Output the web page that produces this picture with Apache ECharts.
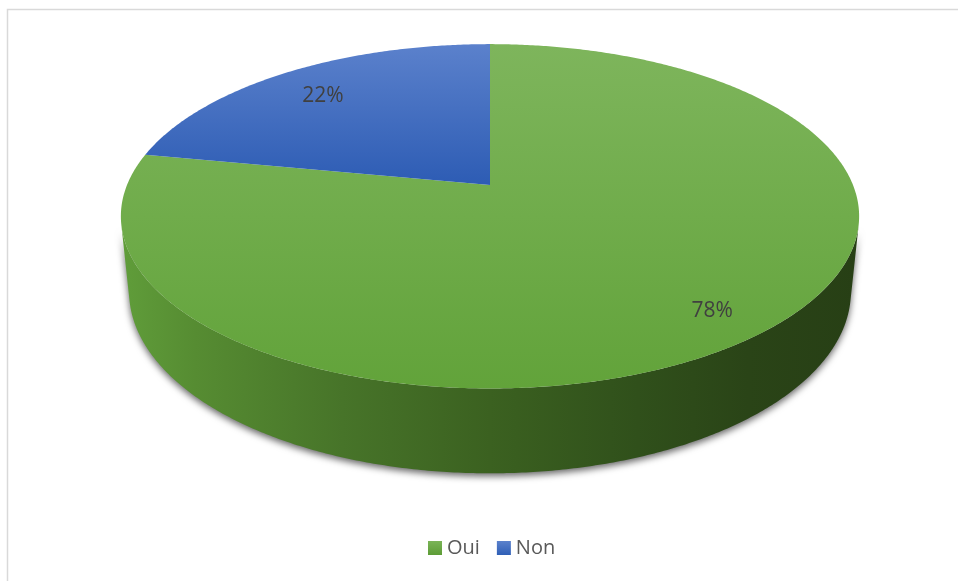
<!DOCTYPE html>
<html>
<head>
<meta charset="utf-8">
<script src="https://cdn.jsdelivr.net/npm/echarts@6/dist/echarts.min.js"></script>
<style>
  html, body { margin: 0; padding: 0; background: #ffffff; }
  #chart { width: 958px; height: 581px; }
</style>
</head>
<body>
<div id="chart"></div>
<script>
// Survey answers (percent of respondents)
const categories = ['Oui', 'Non'];
const shares = [78, 22];

// Top-face gradient (light -> base) for each slice
const topColors = [
  ['#7eb55c', '#62a33a'],
  ['#5b81cc', '#2d5cb4']
];
// Legend swatches
const legendColors = [
  ['#7ab457', '#5d9c36'],
  ['#5b81cc', '#2f5fb6']
];

const total = shares.reduce((a, b) => a + b, 0);

// Perspective camera looking down on a unit disk of given thickness
const VIEW = {
  cx: 490, cy: 185,
  focal: 1775,
  dist: 4.89,
  tilt: 27.3 * Math.PI / 180,
  thick: 0.235,
  labelRadius: 0.83,
  labelShift: [5, 6]
};
const sinT = Math.sin(VIEW.tilt), cosT = Math.cos(VIEW.tilt);

// phi: clockwise angle from the far side of the disk; level 0 = top face, 1 = bottom rim
function project(phi, r, level) {
  const u = r * Math.sin(phi);
  const v = r * Math.cos(phi);
  const Y = -VIEW.thick * level;
  const depth = VIEW.dist + v * cosT - Y * sinT;
  const up = Y * cosT + v * sinT;
  return [VIEW.cx + VIEW.focal * u / depth, VIEW.cy - VIEW.focal * up / depth];
}

// Angles where the side wall turns away from the viewer
const silhouette = Math.acos(-1 / (VIEW.dist * cosT));
const wallFrom = silhouette, wallTo = 2 * Math.PI - silhouette;

function arc(a0, a1, level) {
  const pts = [];
  const n = Math.max(2, Math.ceil((a1 - a0) / (Math.PI / 360)));
  for (let i = 0; i <= n; i++) {
    pts.push(project(a0 + (a1 - a0) * i / n, 1, level));
  }
  return pts;
}

function vGrad(c) {
  return new echarts.graphic.LinearGradient(0, 0, 0, 1, [
    { offset: 0, color: c[0] }, { offset: 1, color: c[1] }
  ]);
}

const wallFill = new echarts.graphic.LinearGradient(0, 0, 1, 0, [
  { offset: 0, color: '#609d3a' },
  { offset: 0.1, color: '#568c32' },
  { offset: 0.3, color: '#477429' },
  { offset: 0.5, color: '#3b6120' },
  { offset: 0.7, color: '#30501b' },
  { offset: 0.85, color: '#2a4417' },
  { offset: 1, color: '#273f15' }
]);

function renderSlice(params, api) {
  const k = params.seriesIndex;
  const before = shares.slice(0, k).reduce((a, b) => a + b, 0);
  const value = api.value(0);
  const a0 = before / total * 2 * Math.PI;
  const a1 = (before + value) / total * 2 * Math.PI;
  const children = [];

  // outer side wall (front part only)
  const w0 = Math.max(a0, wallFrom), w1 = Math.min(a1, wallTo);
  if (w1 > w0) {
    const pts = arc(w0, w1, 0).concat(arc(w0, w1, 1).reverse());
    children.push({
      type: 'polygon',
      z2: 1,
      shape: { points: pts },
      style: {
        fill: wallFill,
        shadowBlur: 7,
        shadowColor: 'rgba(0,0,0,0.6)',
        shadowOffsetY: 3
      }
    });
  }

  // top face
  const topPts = [project(0, 0, 0)].concat(arc(a0, a1, 0));
  children.push({
    type: 'polygon',
    z2: 2,
    shape: { points: topPts },
    style: { fill: vGrad(topColors[k]) }
  });

  // percentage label
  const mid = (a0 + a1) / 2;
  const p = project(mid, VIEW.labelRadius, 0);
  children.push({
    type: 'text',
    z2: 3,
    x: p[0] + VIEW.labelShift[0], y: p[1] + VIEW.labelShift[1],
    style: {
      text: Math.round(value / total * 100) + '%',
      fill: '#404040',
      fontSize: 21,
      fontFamily: 'Open Sans',
      align: 'center',
      verticalAlign: 'middle'
    }
  });

  return { type: 'group', children };
}

const chart = echarts.init(document.getElementById('chart'));
chart.setOption({
  animation: false,
  backgroundColor: '#ffffff',
  graphic: [{
    type: 'rect',
    shape: { x: 7.5, y: 9.5, width: 1200, height: 800 },
    style: { fill: 'none', stroke: '#d9d9d9', lineWidth: 1.5 },
    silent: true,
    z: -1
  }],
  legend: {
    data: categories,
    left: 428,
    top: 538,
    padding: 0,
    icon: 'rect',
    itemWidth: 14,
    itemHeight: 14,
    itemGap: 17,
    textStyle: { color: '#595959', fontSize: 20, fontFamily: 'Open Sans' }
  },
  series: categories.map((name, i) => ({
    type: 'custom',
    name: name,
    coordinateSystem: 'none',
    itemStyle: { color: vGrad(legendColors[i]) },
    data: [shares[i]],
    renderItem: renderSlice
  }))
});
</script>
</body>
</html>
